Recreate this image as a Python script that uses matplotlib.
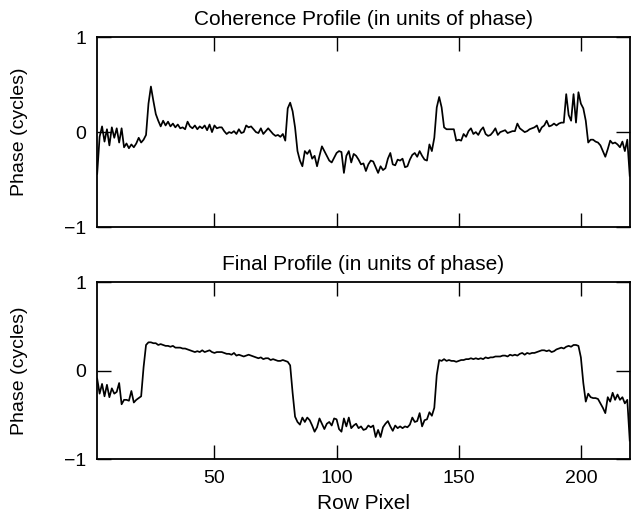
import matplotlib
matplotlib.use("Agg")
import matplotlib.pyplot as plt
import numpy as np

plt.rcParams["font.family"] = ["Liberation Sans", "DejaVu Sans"]

# row pixel index shared by both profiles
row_pixel = np.arange(2, 221)

# coherence profile (cycles), rows 2..220
coherence = [
    -0.44, -0.05, 0.06, -0.10, 0.03, -0.14, 0.05, -0.06, 0.04, -0.11,
    0.04, -0.16, -0.12, -0.17, -0.13, -0.16, -0.12, -0.06, -0.11, -0.08,
    -0.03, 0.30, 0.48, 0.33, 0.19, 0.12, 0.06, 0.12, 0.07, 0.11,
    0.06, 0.09, 0.05, 0.08, 0.04, 0.05, 0.03, 0.11, 0.06, 0.04,
    0.07, 0.03, 0.06, 0.04, 0.07, 0.02, 0.08, 0.00, 0.07, 0.04,
    0.05, 0.05, 0.01, -0.02, 0.00, -0.01, 0.01, -0.02, 0.03, -0.01,
    0.00, 0.07, 0.05, 0.06, 0.03, 0.00, -0.01, 0.04, -0.02, 0.01,
    0.04, 0.01, -0.02, -0.04, -0.03, -0.05, -0.02, -0.09, 0.25, 0.31,
    0.22, 0.05, -0.20, -0.30, -0.36, -0.20, -0.23, -0.19, -0.28, -0.25,
    -0.36, -0.25, -0.15, -0.20, -0.25, -0.30, -0.32, -0.27, -0.22, -0.20,
    -0.21, -0.43, -0.25, -0.20, -0.32, -0.23, -0.25, -0.29, -0.34, -0.33,
    -0.41, -0.34, -0.30, -0.31, -0.37, -0.43, -0.36, -0.40, -0.38, -0.28,
    -0.22, -0.34, -0.35, -0.29, -0.30, -0.28, -0.37, -0.36, -0.29, -0.24,
    -0.22, -0.26, -0.20, -0.25, -0.29, -0.30, -0.13, -0.20, -0.06, 0.26,
    0.37, 0.26, 0.05, 0.03, 0.03, 0.03, 0.03, -0.09, -0.08, -0.09,
    -0.02, -0.05, 0.01, 0.04, -0.02, 0.00, -0.03, 0.02, 0.05, -0.02,
    -0.04, -0.03, 0.00, 0.04, -0.03, 0.00, 0.01, 0.02, -0.01, 0.00,
    0.01, 0.01, 0.09, 0.04, 0.02, 0.00, 0.01, 0.03, 0.04, 0.05,
    0.07, 0.00, 0.05, 0.07, 0.12, 0.06, 0.07, 0.09, 0.07, 0.09,
    0.10, 0.10, 0.40, 0.18, 0.12, 0.40, 0.10, 0.42, 0.30, 0.25,
    0.12, -0.11, -0.08, -0.08, -0.10, -0.11, -0.14, -0.20, -0.26, -0.18,
    -0.09, -0.12, -0.11, -0.13, -0.16, -0.10, -0.20, -0.08, -0.46,
]

# final profile (cycles), rows 2..220
final = [
    -0.09, -0.26, -0.15, -0.29, -0.16, -0.30, -0.20, -0.26, -0.24, -0.14,
    -0.38, -0.33, -0.33, -0.34, -0.23, -0.36, -0.33, -0.31, -0.29, 0.04,
    0.29, 0.32, 0.32, 0.31, 0.31, 0.29, 0.30, 0.29, 0.28, 0.28,
    0.27, 0.28, 0.26, 0.26, 0.26, 0.25, 0.25, 0.24, 0.23, 0.22,
    0.21, 0.22, 0.21, 0.23, 0.21, 0.22, 0.23, 0.21, 0.20, 0.21,
    0.21, 0.21, 0.20, 0.19, 0.19, 0.18, 0.20, 0.17, 0.18, 0.17,
    0.16, 0.17, 0.18, 0.17, 0.16, 0.15, 0.14, 0.15, 0.13, 0.14,
    0.14, 0.12, 0.13, 0.12, 0.11, 0.11, 0.12, 0.11, 0.10, 0.06,
    -0.25, -0.52, -0.58, -0.61, -0.53, -0.58, -0.53, -0.56, -0.62, -0.69,
    -0.64, -0.54, -0.60, -0.66, -0.60, -0.58, -0.62, -0.54, -0.55, -0.66,
    -0.69, -0.54, -0.63, -0.53, -0.65, -0.62, -0.60, -0.65, -0.63, -0.67,
    -0.66, -0.62, -0.64, -0.62, -0.75, -0.67, -0.75, -0.64, -0.60, -0.57,
    -0.63, -0.68, -0.62, -0.65, -0.63, -0.65, -0.63, -0.64, -0.61, -0.53,
    -0.58, -0.57, -0.48, -0.63, -0.56, -0.55, -0.47, -0.51, -0.42, -0.05,
    0.12, 0.11, 0.13, 0.11, 0.12, 0.11, 0.11, 0.10, 0.11, 0.12,
    0.12, 0.13, 0.13, 0.14, 0.13, 0.14, 0.13, 0.14, 0.13, 0.15,
    0.14, 0.15, 0.15, 0.16, 0.16, 0.16, 0.17, 0.17, 0.16, 0.18,
    0.17, 0.18, 0.17, 0.19, 0.20, 0.18, 0.20, 0.19, 0.20, 0.20,
    0.21, 0.22, 0.23, 0.23, 0.22, 0.23, 0.21, 0.22, 0.24, 0.25,
    0.26, 0.25, 0.27, 0.28, 0.27, 0.29, 0.29, 0.28, 0.15, -0.14,
    -0.35, -0.26, -0.30, -0.31, -0.31, -0.32, -0.37, -0.42, -0.48, -0.30,
    -0.35, -0.25, -0.33, -0.27, -0.33, -0.30, -0.37, -0.33, -0.79,
]

titles = ["Coherence Profile (in units of phase)", "Final Profile (in units of phase)"]
xticks = [50, 100, 150, 200]
yticks = [-1, 0, 1]

fig = plt.figure(figsize=(6.31, 5.13), dpi=100)
ax1 = fig.add_axes([0.154, 0.5575, 0.844, 0.370])
ax2 = fig.add_axes([0.154, 0.105, 0.844, 0.345])

for ax, y, title in [(ax1, coherence, titles[0]), (ax2, final, titles[1])]:
    ax.plot(row_pixel, y, color="black", linewidth=1.25)
    ax.set_xlim(2, 220)
    ax.set_ylim(-1, 1)
    ax.set_xticks(xticks)
    ax.set_yticks(yticks)
    ax.set_yticklabels(["\u22121", "0", "1"])
    ax.tick_params(direction="in", length=10, width=1.0, top=True, right=True,
                   labelsize=14, pad=8)
    for s in ax.spines.values():
        s.set_linewidth(1.3)
    ax.set_title(title, fontsize=15, pad=9)
    ax.set_ylabel("Phase (cycles)", fontsize=14, labelpad=26)

ax1.set_xticklabels([])
ax2.set_xlabel("Row Pixel", fontsize=15, labelpad=5)

fig.savefig("out.png", dpi=100)
